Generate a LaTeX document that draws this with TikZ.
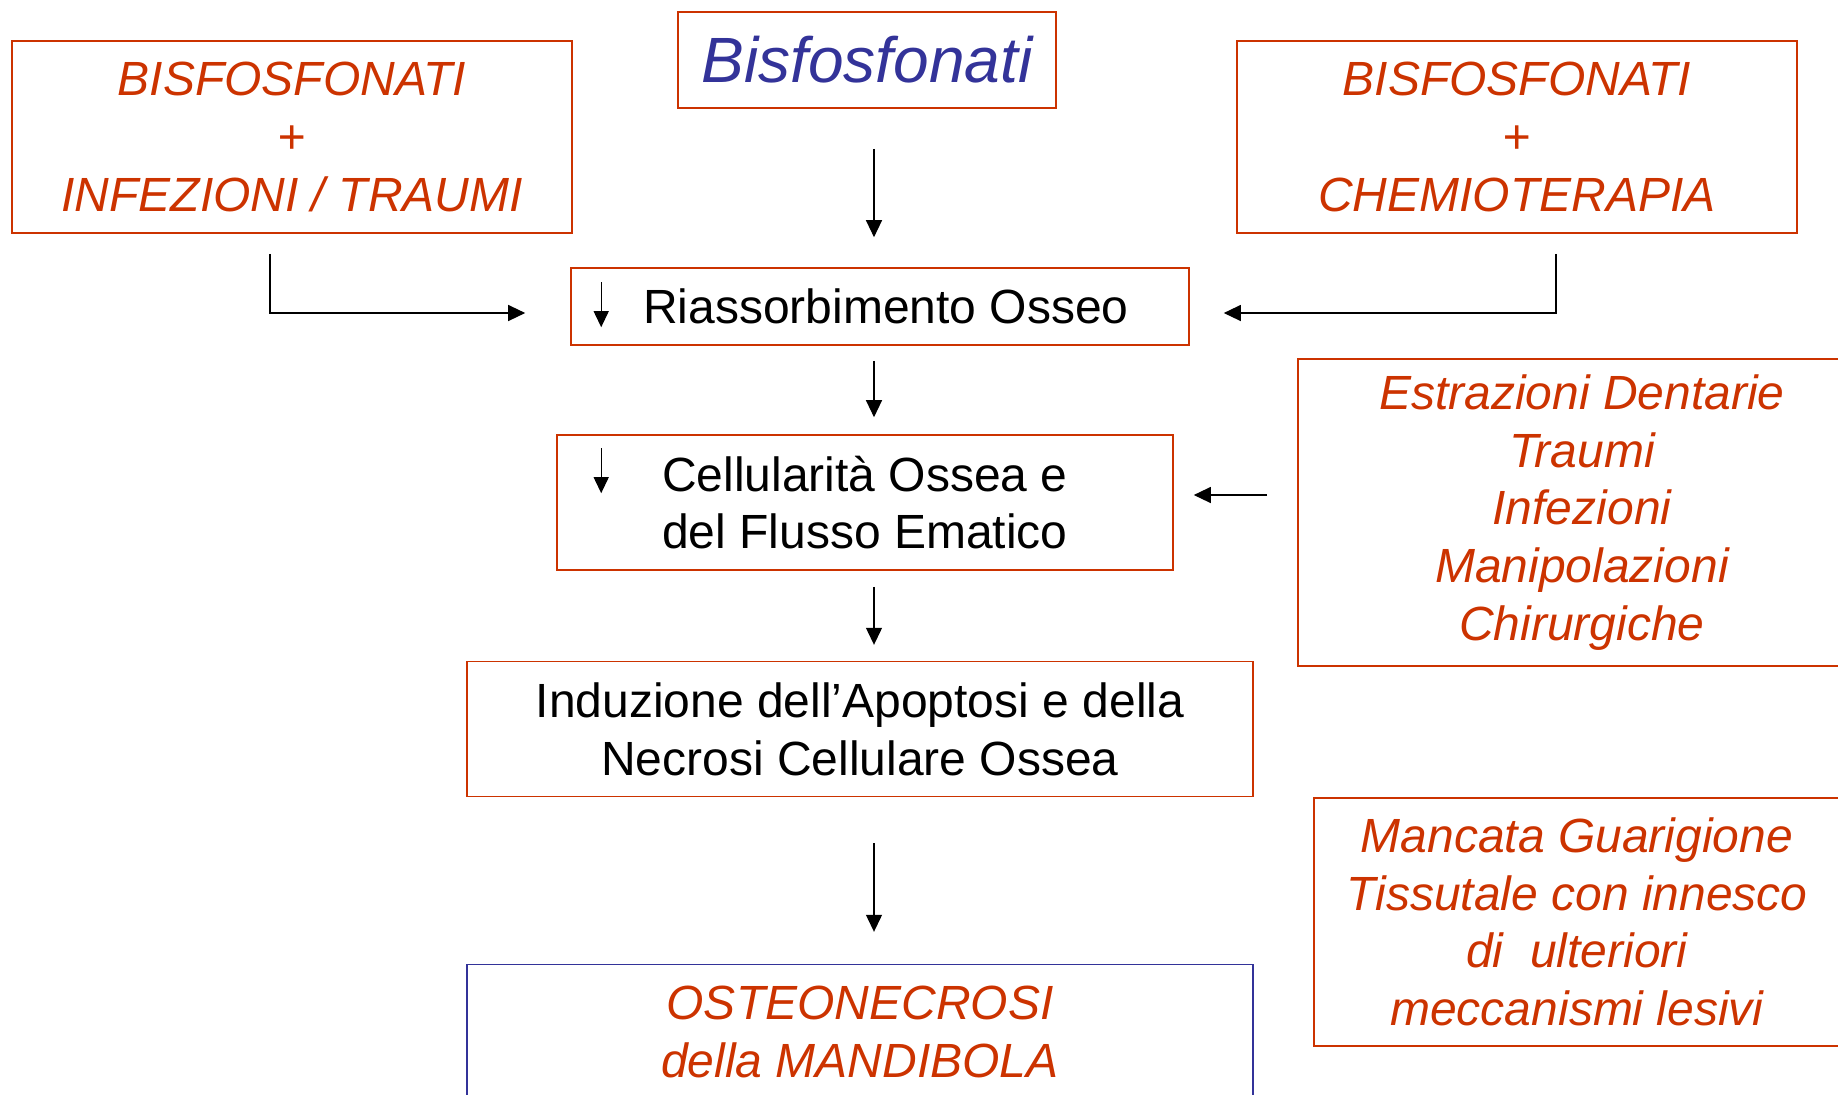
\documentclass[tikz,border=0pt]{standalone}
\usepackage{fontspec}
\setmainfont{Liberation Sans}
\usepackage{tikz}
\usetikzlibrary{arrows.meta, positioning, calc}
\definecolor{rosso}{RGB}{204,51,0}
\definecolor{blu}{RGB}{51,51,153}
\tikzset{%
	box/.style={draw=rosso, line width=0.8pt, rectangle, inner sep=0mm, align=center,%
		font=\fontsize{24}{28.8}\selectfont},
	rtxt/.style={text=rosso, font=\fontsize{24}{28.8}\selectfont\itshape},
	flow/.style={-{Triangle[length=8.5pt,width=8pt]}, line width=0.6pt},
	giu/.style={-{Triangle[length=8pt,width=7.5pt]}, line width=0.6pt}
}

\begin{document}
\begin{tikzpicture}
	\useasboundingbox (0,0) rectangle (919pt,-547pt);
	\coordinate (asse) at (437pt,0);

	\node[box, minimum width=189pt, minimum height=48pt, text=blu,%
		font=\fontsize{32}{38}\selectfont\itshape] (bisf) at (433.5pt,-30pt) {Bisfosfonati};
	\node[box, rtxt, minimum width=280pt, minimum height=96pt] (combo1) at (146pt,-68.5pt)
		{BISFOSFONATI\\+\\INFEZIONI / TRAUMI};
	\node[box, rtxt, minimum width=280pt, minimum height=96pt] (combo2) at (758.5pt,-68.5pt)
		{BISFOSFONATI\\+\\CHEMIOTERAPIA};
	\node[box, minimum width=309pt, minimum height=38.5pt, below=79.2pt of bisf, xshift=6.5pt] (riass)
		{\hspace*{6pt}Riassorbimento Osseo};
	\node[box, minimum width=308pt, minimum height=67.5pt, below=44.2pt of riass, xshift=-7.5pt] (cell)
		{Cellularità Ossea e\\del Flusso Ematico};
	\node[box, minimum width=393pt, minimum height=67.5pt, below=45pt of cell, xshift=-2.5pt] (induz)
		{Induzione dell'Apoptosi e della\\Necrosi Cellulare Ossea};
	\node[box, rtxt, draw=blu, minimum width=393pt, minimum height=67.5pt, below=83.2pt of induz] (osteo)
		{OSTEONECROSI\\della MANDIBOLA};
	\node[box, rtxt, minimum width=284pt, minimum height=153.5pt] (estr) at (791pt,-256.25pt)
		{Estrazioni Dentarie\\Traumi\\Infezioni\\Manipolazioni\\Chirurgiche};
	\node[box, rtxt, minimum width=263pt, minimum height=124pt] (manc) at (788.5pt,-461pt)
		{Mancata Guarigione\\Tissutale con innesco\\di~ ulteriori\\meccanismi lesivi};

	% frecce interne
	\coordinate (ra1) at ([xshift=15.5pt, yshift=-7.5pt]riass.north west);
	\coordinate (ra2) at ([xshift=15.5pt, yshift=-30pt]riass.north west);
	\coordinate (ca1) at ([xshift=22.5pt, yshift=-7pt]cell.north west);
	\coordinate (ca2) at ([xshift=22.5pt, yshift=-29.5pt]cell.north west);
	\draw[giu] (ra1) -- (ra2);
	\draw[giu] (ca1) -- (ca2);

	\draw[flow, shorten <=20pt, shorten >=15pt] (bisf.south -| asse) -- (riass.north -| asse);
	\draw[flow, shorten <=7.5pt, shorten >=8.5pt] (riass.south -| asse) -- (cell.north -| asse);
	\draw[flow, shorten <=8pt, shorten >=8pt] (cell.south -| asse) -- (induz.north -| asse);
	\draw[flow, shorten <=23pt, shorten >=16pt] (induz.south -| asse) -- (osteo.north -| asse);
	\draw[flow, shorten <=10pt, shorten >=22.5pt] ([xshift=-11pt]combo1.south) |- ([yshift=-3.25pt]riass.west);
	\draw[flow, shorten <=10pt, shorten >=17pt] ([xshift=19.5pt]combo2.south) |- ([yshift=-3.25pt]riass.east);
	\draw[flow, shorten <=15pt, shorten >=10pt] ([yshift=3.75pt]cell.east -| estr.west) -- ([yshift=3.75pt]cell.east);
\end{tikzpicture}
\end{document}
